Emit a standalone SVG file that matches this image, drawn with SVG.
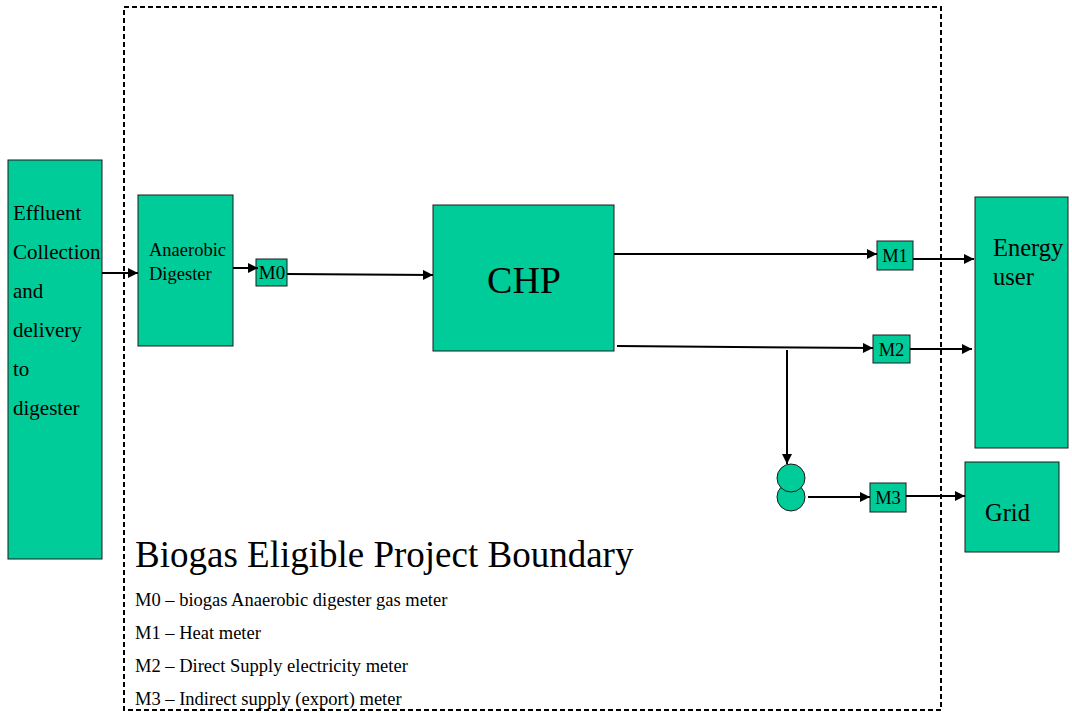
<svg xmlns="http://www.w3.org/2000/svg" width="1072" height="713" viewBox="0 0 1072 713">
<style>
.box{fill:#00CC99;stroke:#1a1a1a;stroke-width:1}
text{font-family:'Liberation Serif','Times New Roman',Times,serif;fill:#000}
.ln{stroke:#000;stroke-width:2;fill:none}
</style>
<defs>
<marker id="ah" viewBox="0 0 10 10" refX="10" refY="5" markerWidth="5.5" markerHeight="5" orient="auto" markerUnits="strokeWidth">
<path d="M0,0 L10,5 L0,10 z" fill="#000"/>
</marker>
</defs>
<rect width="1072" height="713" fill="#fff"/>
<g id="boundary">
<rect x="124" y="7" width="817" height="703" fill="none" stroke="#000" stroke-width="2" stroke-dasharray="5,3"/>
<text x="135" y="567" font-size="37">Biogas Eligible Project Boundary</text>
</g>
<g id="legend" font-size="18.5">
<text x="135" y="606">M0 – biogas Anaerobic digester gas meter</text>
<text x="135" y="639">M1 – Heat meter</text>
<text x="135" y="672">M2 – Direct Supply electricity meter</text>
<text x="135" y="705">M3 – Indirect supply (export) meter</text>
</g>
<g id="effluent">
<rect class="box" x="8" y="160" width="94" height="399"/>
<text font-size="21">
<tspan x="13" y="220">Effluent</tspan>
<tspan x="13" y="259">Collection</tspan>
<tspan x="13" y="298">and</tspan>
<tspan x="13" y="337">delivery</tspan>
<tspan x="13" y="376">to</tspan>
<tspan x="13" y="415">digester</tspan>
</text>
</g>
<g id="digester">
<rect class="box" x="138" y="195" width="95" height="151"/>
<text font-size="18.5"><tspan x="149" y="256">Anaerobic</tspan><tspan x="149" y="280">Digester</tspan></text>
</g>
<g id="m0">
<rect class="box" x="256" y="259" width="31" height="27"/>
<text font-size="19" x="272" y="279" text-anchor="middle">M0</text>
</g>
<g id="chp">
<rect class="box" x="433" y="205" width="181" height="146"/>
<text font-size="38" x="524" y="293" text-anchor="middle">CHP</text>
</g>
<g id="m1">
<rect class="box" x="877" y="241" width="36" height="29"/>
<text font-size="18.5" x="895" y="262" text-anchor="middle">M1</text>
</g>
<g id="m2">
<rect class="box" x="873" y="335" width="37" height="28"/>
<text font-size="18.5" x="891.5" y="356" text-anchor="middle">M2</text>
</g>
<g id="m3">
<rect class="box" x="870" y="483" width="36" height="29"/>
<text font-size="18.5" x="888" y="504" text-anchor="middle">M3</text>
</g>
<g id="energy-user">
<rect class="box" x="975" y="197" width="93" height="251"/>
<text font-size="24.5"><tspan x="993" y="256">Energy</tspan><tspan x="993" y="285">user</tspan></text>
</g>
<g id="grid">
<rect class="box" x="965" y="462" width="94" height="90"/>
<text font-size="24.5" x="985" y="521">Grid</text>
</g>
<g id="transformer">
<circle class="box" cx="791" cy="497" r="14"/>
<circle class="box" cx="791" cy="478" r="14"/>
</g>
<g id="connectors">
<line class="ln" x1="102" y1="273" x2="138" y2="273" marker-end="url(#ah)"/>
<line class="ln" x1="233" y1="268" x2="258" y2="268" marker-end="url(#ah)"/>
<line class="ln" x1="287" y1="274" x2="433" y2="275" marker-end="url(#ah)"/>
<line class="ln" x1="614" y1="254" x2="877" y2="254" marker-end="url(#ah)"/>
<line class="ln" x1="913" y1="259" x2="974" y2="259" marker-end="url(#ah)"/>
<line class="ln" x1="617" y1="346" x2="873" y2="348" marker-end="url(#ah)"/>
<line class="ln" x1="910" y1="349" x2="972" y2="349" marker-end="url(#ah)"/>
<line class="ln" x1="787" y1="350" x2="787" y2="464" marker-end="url(#ah)"/>
<line class="ln" x1="808" y1="497" x2="870" y2="497" marker-end="url(#ah)"/>
<line class="ln" x1="906" y1="496" x2="965" y2="496" marker-end="url(#ah)"/>
</g>
</svg>
